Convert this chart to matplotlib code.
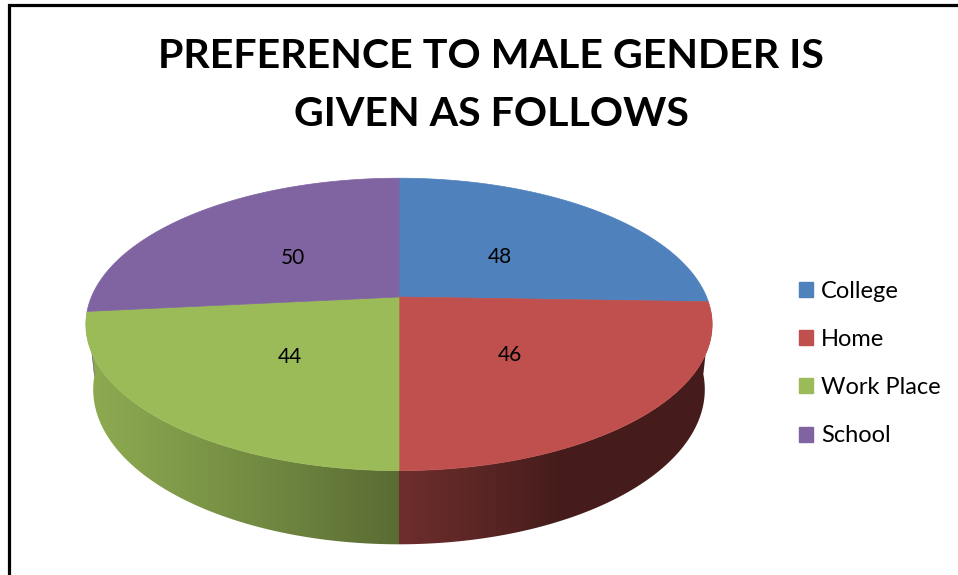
import numpy as np
import matplotlib
matplotlib.use("Agg")
import matplotlib.pyplot as plt
from matplotlib.patches import Polygon, Patch
from matplotlib.colors import to_rgb

# ---- data ----
categories = ["College", "Home", "Work Place", "School"]
values = [48, 46, 44, 50]
colors = ["#4F81BD", "#C0504D", "#9BBB59", "#8064A2"]
title_lines = ["PREFERENCE TO MALE GENDER IS", "GIVEN AS FOLLOWS"]

# ---- projection (layout/style) ----
W, H = 958, 575
cx, cy = 399.0, 297.0
F, D = 1458.0, 4.74
alpha = np.deg2rad(27.3)
ca, sa = np.cos(alpha), np.sin(alpha)
thick = 0.24

def proj(X, Y, Z):
    dist = D + Z * ca - Y * sa
    v = Y * ca + Z * sa
    return cx + F * X / dist, cy - F * v / dist

def rim(theta, Y, r=1.0):
    return proj(r * np.sin(theta), Y, r * np.cos(theta))

def shade(theta):
    dot = -0.95 * np.sin(theta) - 0.3 * np.cos(theta)
    return np.clip(0.43 + 0.48 * dot, 0.36, 0.92)

fig = plt.figure(figsize=(W / 100, H / 100), dpi=100)
ax = fig.add_axes([0, 0, 1, 1])
ax.set_xlim(0, W)
ax.set_ylim(H, 0)
ax.axis("off")

# border (left and top)
ax.plot([9.5, 9.5, W + 5], [H + 5, 5, 5], color="black", lw=2.3,
        solid_joinstyle="miter", clip_on=False)

vals = np.array(values, dtype=float)
edges = np.concatenate([[0], np.cumsum(vals)]) / vals.sum() * 2 * np.pi

# mapping screen-x -> rim angle on the visible front side
vis_lo, vis_hi = np.deg2rad(104), np.deg2rad(256)
tt = np.linspace(vis_lo, vis_hi, 2000)
rx, _ = rim(tt, -thick / 2)
xcols = np.arange(W) + 0.5
theta_x = np.interp(xcols, rx[::-1], tt[::-1])
sh = shade(theta_x)

# side walls with horizontal gradient
lo, hi = np.deg2rad(95), np.deg2rad(265)
for k in range(len(vals)):
    a0, a1 = max(edges[k], lo), min(edges[k + 1], hi)
    if a0 >= a1:
        continue
    ts = np.linspace(a0, a1, 300)
    xt, yt = rim(ts, 0)
    xb, yb = rim(ts[::-1], -thick)
    pts = list(zip(xt, yt)) + list(zip(xb, yb))
    poly = Polygon(pts, closed=True, facecolor="none", edgecolor="none")
    ax.add_patch(poly)
    base = np.array(to_rgb(colors[k]))
    img = (sh[:, None] * base[None, :])[None, :, :]
    im = ax.imshow(img, extent=[0, W, H, 0], aspect="auto",
                   interpolation="nearest", zorder=1)
    im.set_clip_path(poly)

# top faces
for k in range(len(vals)):
    ts = np.linspace(edges[k], edges[k + 1], 200)
    xs, ys = rim(ts, 0)
    pts = [proj(0, 0, 0)] + list(zip(xs, ys))
    ax.add_patch(Polygon(pts, closed=True, facecolor=colors[k],
                         edgecolor=colors[k], lw=0.5, zorder=2))

# data labels
for k in range(len(vals)):
    tm = 0.5 * (edges[k] + edges[k + 1])
    lx, ly = rim(tm, 0, r=0.49)
    ax.text(lx - 1, ly + 5, f"{values[k]:g}", ha="center", va="center",
            fontsize=15, family="Lato", color="black", zorder=3)

# title
for i, line in enumerate(title_lines):
    fig.text(491 / W, 1 - (57 + 57 * i) / H, line, ha="center", va="center",
             fontsize=29.6, fontweight="bold", family="Lato")

# legend
handles = [Patch(facecolor=c, edgecolor=c) for c in colors]
leg = fig.legend(handles, categories, loc="upper left",
                 bbox_to_anchor=(799 / W, 1 - 281 / H), frameon=False,
                 prop={"family": "Lato", "size": 17},
                 handlelength=0.6, handleheight=0.6, handletextpad=0.34,
                 labelspacing=1.15, borderpad=0, borderaxespad=0)

fig.savefig("out.png", dpi=100)
